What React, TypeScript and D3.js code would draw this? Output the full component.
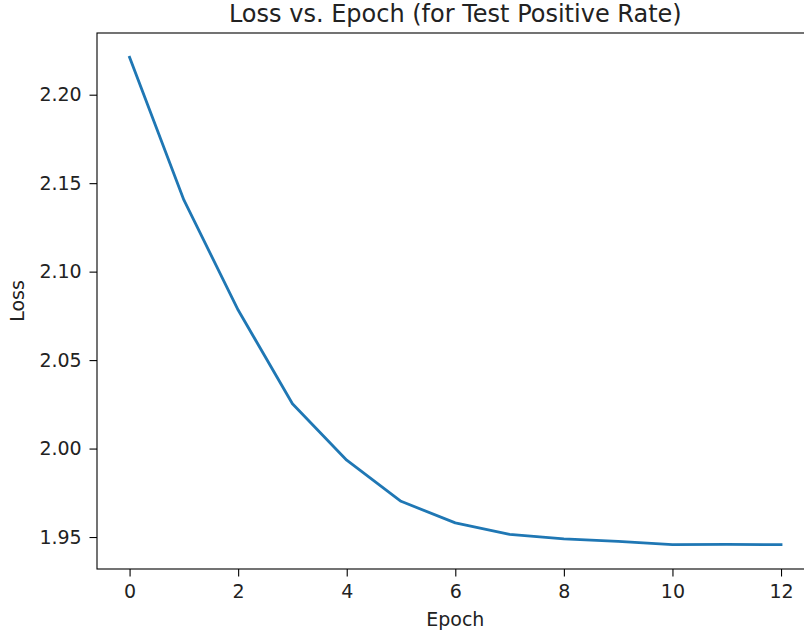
import React, { useEffect, useRef } from 'react';
import * as d3 from 'd3';

const epochs = [0, 1, 2, 3, 4, 5, 6, 7, 8, 9, 10, 11, 12];
const losses = [2.2211, 2.1405, 2.0783, 2.0253, 1.9934, 1.9702, 1.958, 1.9515, 1.9489, 1.9475, 1.9457, 1.9458, 1.9457];
const xTicks = [0, 2, 4, 6, 8, 10, 12];
const yTicks = [1.95, 2.0, 2.05, 2.1, 2.15, 2.2];

const W = 804, H = 634;

const App = () => {
  const ref = useRef<SVGSVGElement>(null);

  useEffect(() => {
    const svg = d3.select(ref.current);
    svg.selectAll('*').remove();

    const left = 97, right = 813.6, top = 33, bottom = 569;
    const font = 'DejaVu Sans, sans-serif';
    const fs = 19;

    const yMin = d3.min(losses)!, yMax = d3.max(losses)!;
    const pad = (yMax - yMin) * 0.05;
    const x = d3.scaleLinear().domain([-0.6, 12.6]).range([left, right]);
    const y = d3.scaleLinear().domain([yMin - pad, yMax + pad]).range([bottom, top]);

    svg.append('rect').attr('width', W).attr('height', H).attr('fill', '#fff');

    // line
    const line = d3.line<number>()
      .x((d, i) => x(epochs[i]))
      .y(d => y(d));
    svg.append('path')
      .datum(losses)
      .attr('d', line)
      .attr('fill', 'none')
      .attr('stroke', '#1f77b4')
      .attr('stroke-width', 2.8)
      .attr('stroke-linejoin', 'round')
      .attr('stroke-linecap', 'square');

    // axes
    const xAxis = svg.append('g')
      .attr('transform', `translate(0,${bottom})`)
      .call(d3.axisBottom(x).tickValues(xTicks).tickFormat(d3.format('d')).tickSize(7.5).tickPadding(8.5));
    const yAxis = svg.append('g')
      .attr('transform', `translate(${left},0)`)
      .call(d3.axisLeft(y).tickValues(yTicks).tickFormat(d3.format('.2f')).tickSize(7.5).tickPadding(7.8));
    [xAxis, yAxis].forEach(g => {
      g.select('.domain').remove();
      g.selectAll('line').attr('stroke', '#000').attr('stroke-width', 1.1);
      g.selectAll('text').attr('font-family', font).attr('font-size', fs).attr('fill', '#222');
    });

    // spines
    svg.append('rect')
      .attr('x', left).attr('y', top)
      .attr('width', right - left).attr('height', bottom - top)
      .attr('fill', 'none').attr('stroke', '#000').attr('stroke-width', 1.1);

    svg.append('text')
      .attr('x', (left + right) / 2).attr('y', 22)
      .attr('text-anchor', 'middle')
      .attr('font-family', font).attr('font-size', 24).attr('fill', '#222')
      .text('Loss vs. Epoch (for Test Positive Rate)');

    svg.append('text')
      .attr('x', (left + right) / 2).attr('y', 626)
      .attr('text-anchor', 'middle')
      .attr('font-family', font).attr('font-size', fs).attr('fill', '#222')
      .text('Epoch');

    svg.append('text')
      .attr('transform', `translate(24,${(top + bottom) / 2}) rotate(-90)`)
      .attr('text-anchor', 'middle')
      .attr('font-family', font).attr('font-size', fs).attr('fill', '#222')
      .text('Loss');
  }, []);

  return (
    <svg ref={ref} width={W} height={H} style={{ position: 'absolute', left: 0, top: 0 }}></svg>
  );
};

export default App;
